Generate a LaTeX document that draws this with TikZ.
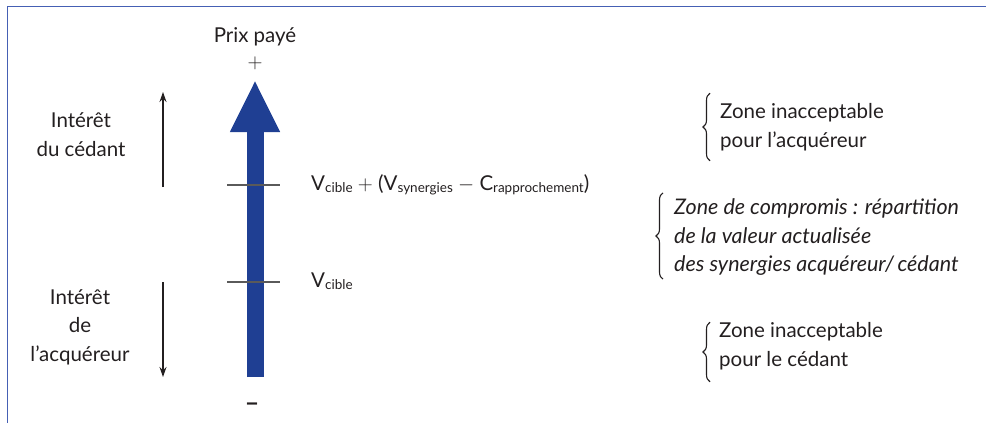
\documentclass[tikz,border=0pt]{standalone}
\usepackage{fontspec}
\setmainfont{Lato}
\usepackage{xcolor}
\usepackage{tikz}
\usetikzlibrary{arrows.meta,positioning,decorations.pathreplacing}
\definecolor{pxblue}{HTML}{1F3F93}
\definecolor{pxframe}{HTML}{4560B4}
\definecolor{pxgray}{HTML}{5A5A5A}
\definecolor{pxtext}{HTML}{231F20}
\newcommand{\lowtxt}[1]{\raisebox{-2pt}{\fontsize{13.5}{13.5}\selectfont #1}}
\tikzset{
    txt/.style={
        font=\fontsize{20.5}{28.5}\selectfont,
        text=pxtext, inner sep=0pt
    },
    sidetxt/.style={txt, align=center},
    zonetxt/.style={txt, align=left, anchor=west},
    pricearrow/.style={line width=17pt, color=pxblue,
        -{Triangle[width=46pt,length=52pt]}},
    interestarrow/.style={-{Stealth[length=10pt,width=7pt]},
        line width=1.2pt, color=pxtext},
    pricetick/.style={line width=1.2pt, color=pxgray},
    zonebrace/.style={decorate, decoration={brace, amplitude=7pt},
        line width=1.1pt, color=pxtext},
    framebox/.style={line width=1.4pt, color=pxframe},
}

\begin{document}
\begin{tikzpicture}[x=1pt, y=-1pt]

    \useasboundingbox (0,0) rectangle (986,423);

    % Frame
    \draw[framebox] (7.5,423) -- (7.5,6.5) -- (986,6.5);

    % Price axis
    \coordinate (low)  at (255,377);
    \coordinate (high) at (255,80);
    \draw[pricearrow] (low) -- (high);

    \node[txt, anchor=base] (prix) at (255,42) {Prix payé};
    \node[txt] (plus)  at (255,63) {$+$};
    \node[txt, font=\fontsize{25}{25}\selectfont\bfseries] (minus) at (252,407) {–};

    % Ticks and values
    \coordinate (tickhigh) at (254,185);
    \coordinate (ticklow)  at (254,282);
    \draw[pricetick] ([xshift=-27pt]tickhigh) -- ([xshift=26pt]tickhigh);
    \draw[pricetick] ([xshift=-27pt]ticklow) -- ([xshift=26pt]ticklow);

    \node[txt, anchor=base west] (vmax) at (311,190)
        {V\lowtxt{cible} $+$ (V\lowtxt{synergies} $-$ C\lowtxt{rapprochement})};
    \node[txt, anchor=base west] (vmin) at (311,287)
        {V\lowtxt{cible}};

    % Interests
    \node[sidetxt] (cedant) at (81,134.5) {Intérêt\\du cédant};
    \node[sidetxt] (acqu) at (80,327) {Intérêt\\de\\l’acquéreur};

    \coordinate (upfrom)   at (163,187);
    \coordinate (upto)     at (163,92);
    \coordinate (downfrom) at (163,282);
    \coordinate (downto)   at (163,377);
    \draw[interestarrow] (upfrom) -- (upto);
    \draw[interestarrow] (downfrom) -- (downto);

    % Zones
    \node[zonetxt] (zonea) at (720,127)
        {Zone inacceptable\\pour l’acquéreur};
    \node[zonetxt, font=\fontsize{21.5}{28.5}\selectfont\itshape] (zonec) at (674,237.5)
        {Zone de compromis : répartition\\de la valeur actualisée\\des synergies acquéreur/\,cédant};
    \node[zonetxt] (zoneb) at (719,346)
        {Zone inacceptable\\pour le cédant};

    \draw[zonebrace] ([xshift=-10pt,yshift=-10pt]zonea.south west)
        -- ([xshift=-10pt,yshift=10pt]zonea.north west);
    \draw[zonebrace] ([xshift=-11pt,yshift=-3pt]zonec.south west)
        -- ([xshift=-11pt,yshift=6pt]zonec.north west);
    \draw[zonebrace] ([xshift=-9pt,yshift=-12pt]zoneb.south west)
        -- ([xshift=-9pt,yshift=0pt]zoneb.north west);

\end{tikzpicture}
\end{document}
